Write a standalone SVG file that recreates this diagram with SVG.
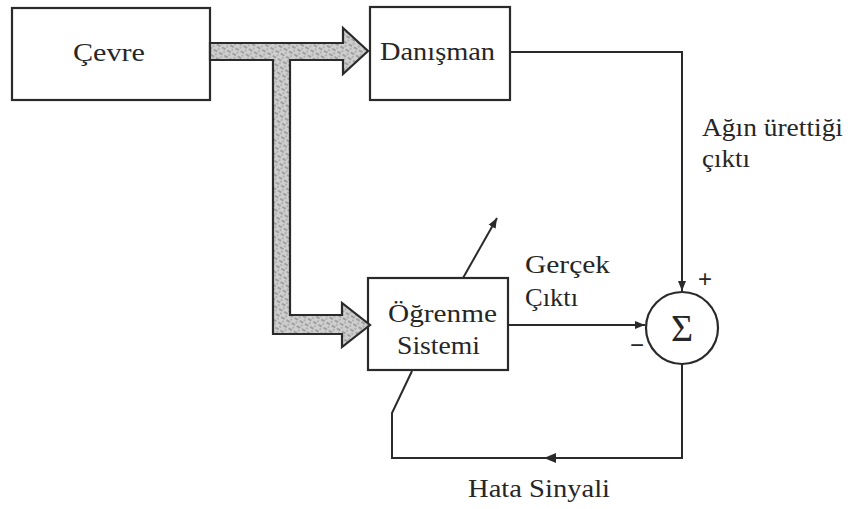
<svg xmlns="http://www.w3.org/2000/svg" width="851" height="509" viewBox="0 0 851 509">
<style>
.box{fill:#fff;stroke:#2a2a2a;stroke-width:2.2}
.t{font-family:"Liberation Serif","Times New Roman",serif;font-size:25px;fill:#262626}
.ln{fill:none;stroke:#2a2a2a;stroke-width:2}
.big{fill:url(#hatch);stroke:#2a2a2a;stroke-width:2.2;stroke-linejoin:miter}
</style>
<defs>
<pattern id="hatch" width="6" height="6" patternUnits="userSpaceOnUse" patternTransform="rotate(30)">
<rect width="6" height="6" fill="#cfcfcf"/>
<line x1="0" y1="2" x2="4" y2="2" stroke="#7a7a7a" stroke-width="1.1"/>
<circle cx="4" cy="5" r="0.8" fill="#8a8a8a"/>
</pattern>
<marker id="ah" viewBox="0 0 10 10" refX="10" refY="5" markerWidth="10" markerHeight="10" markerUnits="userSpaceOnUse" orient="auto">
<path d="M0,1 L10,5 L0,9 Z" fill="#2a2a2a"/>
</marker>
</defs>

<g id="cevre">
<rect class="box" x="12" y="8" width="198" height="92"/>
<text class="t" x="73" y="61" textLength="72" lengthAdjust="spacingAndGlyphs">Çevre</text>
</g>

<g id="danisman">
<rect class="box" x="370" y="7" width="140" height="93"/>
<text class="t" x="380" y="60" textLength="115" lengthAdjust="spacingAndGlyphs">Danışman</text>
</g>

<g id="ogrenme">
<rect class="box" x="368" y="278" width="140" height="92"/>
<text class="t" x="388" y="322" textLength="109" lengthAdjust="spacingAndGlyphs">Öğrenme</text>
<text class="t" x="397" y="354" textLength="83" lengthAdjust="spacingAndGlyphs">Sistemi</text>
</g>

<g id="toplam">
<circle cx="682" cy="328" r="36" fill="#fff" stroke="#2a2a2a" stroke-width="2.2"/>
<text x="682" y="341" text-anchor="middle" font-family="Liberation Serif,serif" font-size="38" fill="#262626">Σ</text>
<text x="705" y="287" text-anchor="middle" font-family="Liberation Sans,sans-serif" font-size="24" fill="#262626">+</text>
<text x="637" y="353" text-anchor="middle" font-family="Liberation Sans,sans-serif" font-size="24" fill="#262626">−</text>
</g>

<g id="connectors">
<path class="big" d="M210,43 H343 V28 L368,51 L343,74 V60 H290 V315 H342 V303 L370,325 L342,347 V334 H273 V60 H210 Z"/>
<path class="ln" d="M510,52 H682 V291" marker-end="url(#ah)"/>
<path class="ln" d="M508,325 H645" marker-end="url(#ah)"/>
<path class="ln" d="M463,278 L497,218" marker-end="url(#ah)"/>
<path class="ln" d="M682,364 V458 H392 V413 L412,371"/>
<path d="M544,458 L556,453 L556,463 Z" fill="#2a2a2a"/>
</g>

<g id="labels">
<text class="t" x="702" y="136" textLength="141" lengthAdjust="spacingAndGlyphs">Ağın ürettiği</text>
<text class="t" x="702" y="167" textLength="48" lengthAdjust="spacingAndGlyphs">çıktı</text>
<text class="t" x="525" y="273" textLength="85" lengthAdjust="spacingAndGlyphs">Gerçek</text>
<text class="t" x="525" y="306" textLength="53" lengthAdjust="spacingAndGlyphs">Çıktı</text>
<text class="t" x="468" y="497" textLength="142" lengthAdjust="spacingAndGlyphs">Hata Sinyali</text>
</g>
</svg>
